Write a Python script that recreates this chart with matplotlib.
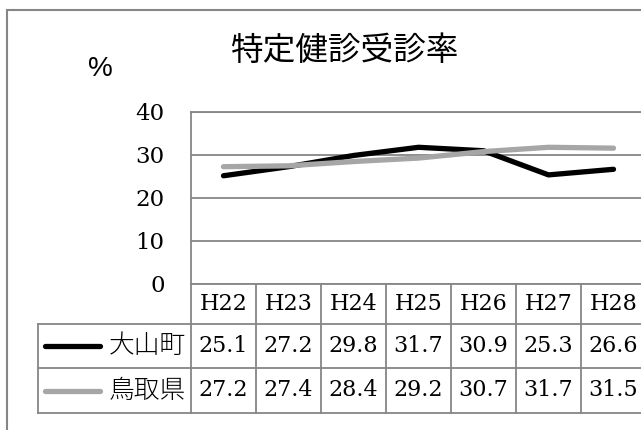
import matplotlib
matplotlib.use("Agg")
import matplotlib.pyplot as plt
from matplotlib.patches import Rectangle

years = ["H22", "H23", "H24", "H25", "H26", "H27", "H28"]
daisen = [25.1, 27.2, 29.8, 31.7, 30.9, 25.3, 26.6]
tottori = [27.2, 27.4, 28.4, 29.2, 30.7, 31.7, 31.5]
series_names = ["大山町", "鳥取県"]
yticks = [0, 10, 20, 30, 40]

BLACK = "#000000"
LIGHT = "#a6a6a6"
EDGE = "#868686"
SERIF = "DejaVu Serif"
JP = ["Noto Sans CJK JP", "DejaVu Sans"]

W, H = 641, 430
fig = plt.figure(figsize=(W / 100, H / 100), dpi=100)

# plot area in pixels: left 191, top 111.5, bottom 284, columns 65 px wide
ax_h = 172.5
ax = fig.add_axes([191 / W, (H - 284) / H, 455 / W, ax_h / H])
x = list(range(len(years)))
ax.plot(x, daisen, color=BLACK, lw=3.8, solid_capstyle="round", zorder=3)
ax.plot(x, tottori, color=LIGHT, lw=3.8, solid_capstyle="round", zorder=4)
ax.set_xlim(-0.5, len(years) - 0.5)
ax.set_ylim(0, 40)
ax.set_yticks(yticks)
ax.set_xticks([])
ax.tick_params(axis="y", length=0, pad=19, labelsize=16.5)
for lbl in ax.get_yticklabels():
    lbl.set_fontfamily(SERIF)
ax.grid(axis="y", color=EDGE, lw=1.3)
for side in ["top", "left", "bottom"]:
    ax.spines[side].set_color(EDGE)
    ax.spines[side].set_linewidth(1.3)
ax.spines["right"].set_visible(False)

# data table under the axis
px = 65.0  # pixels per category
def xpix(p):
    return -0.5 - (191 - p) / px

def ypix(d):
    # d = pixels below the axis bottom
    return -d / ax_h

tr = ax.get_xaxis_transform()
line_kw = dict(color=EDGE, lw=1.3, transform=tr, clip_on=False)
x_left = xpix(38)
x_right = len(years) - 0.5 + 0.2
for d in [40, 84, 128.5]:
    ax.plot([x_left, x_right], [ypix(d)] * 2, **line_kw)
ax.plot([-0.5, -0.5], [0, ypix(128.5)], **line_kw)
ax.plot([x_left, x_left], [ypix(40), ypix(128.5)], **line_kw)
for i in range(1, len(years) + 1):
    ax.plot([i - 0.5, i - 0.5], [0, ypix(128.5)], **line_kw)

for i, yr in enumerate(years):
    ax.text(i, ypix(20), yr, transform=tr, ha="center", va="center",
            fontsize=16, fontfamily=SERIF, clip_on=False)

rows = [(daisen, BLACK, 62), (tottori, LIGHT, 106.5)]
for (vals, col, d), name in zip(rows, series_names):
    yc = ypix(d)
    ax.plot([xpix(45), xpix(100)], [yc, yc], color=col, lw=3.8,
            solid_capstyle="round", transform=tr, clip_on=False)
    ax.text(xpix(186), yc, name, transform=tr, ha="right", va="center",
            fontsize=18.5, fontfamily=JP, fontweight="light", clip_on=False)
    for i, v in enumerate(vals):
        ax.text(i, yc, f"{v:.1f}", transform=tr, ha="center", va="center",
                fontsize=16, fontfamily=SERIF, clip_on=False)

fig.text(344 / W, 1 - 51 / H, "特定健診受診率", ha="center", va="center",
         fontsize=23.5, fontfamily=JP)
fig.text(100 / W, 1 - 69 / H, "%", ha="center", va="center",
         fontsize=20, fontfamily="Liberation Sans")

# outer chart border
fig.add_artist(Rectangle((7 / W, -0.05), 1.2, 1 - 10 / H + 0.05,
                         transform=fig.transFigure, fill=False,
                         edgecolor=EDGE, lw=1.5, clip_on=False))

fig.savefig("out.png", dpi=100)
